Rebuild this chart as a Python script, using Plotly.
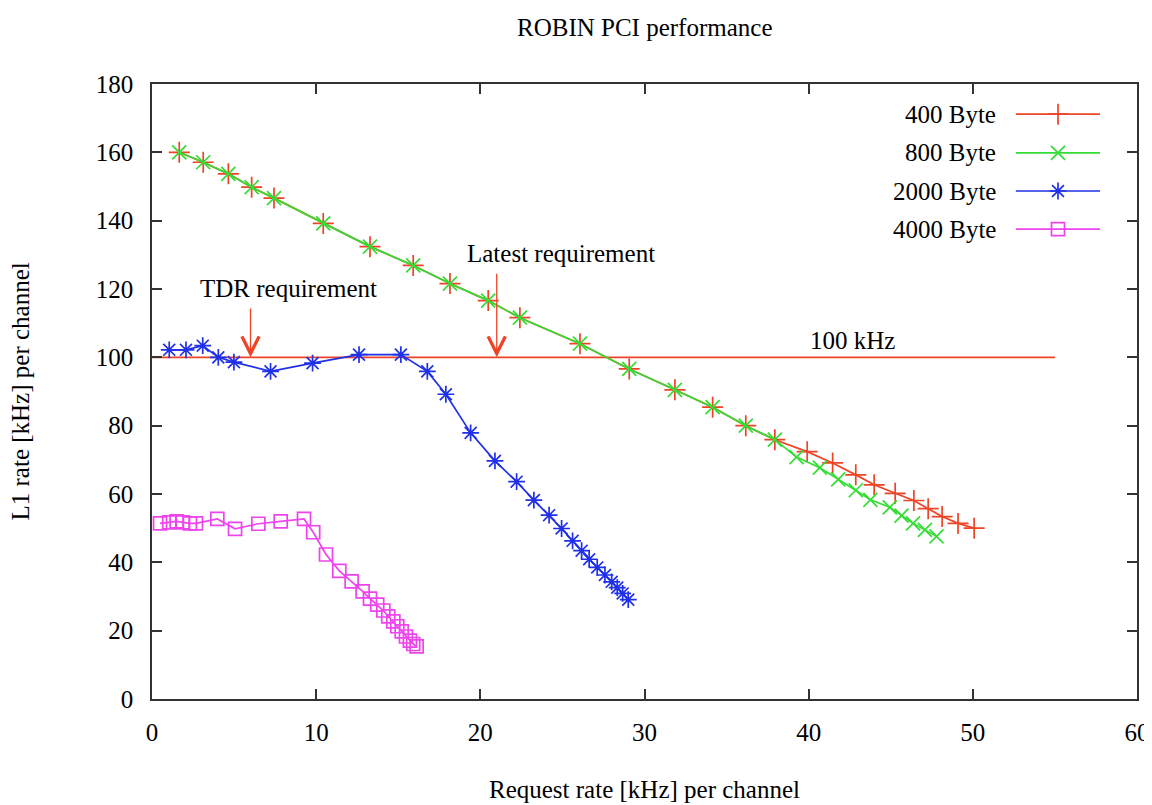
import plotly.graph_objects as go

# ---------------- data ----------------
x400 = [1.66, 3.12, 4.65, 6.07, 7.43, 10.43, 13.28, 15.91, 18.15, 20.48, 22.41, 26.07, 29.07, 31.85,
        34.15, 36.17, 37.94, 39.91, 41.46, 42.87, 43.99, 45.27, 46.41, 47.28, 48.13, 49.10, 50.08]
y400 = [160.0, 157.1, 153.7, 149.8, 146.6, 139.2, 132.4, 126.9, 121.6, 116.6, 111.6, 104.0, 96.6, 90.5,
        85.4, 80.0, 75.9, 72.4, 69.1, 65.6, 62.7, 60.2, 58.1, 55.7, 53.4, 51.4, 50.0]

x800 = [1.66, 3.12, 4.65, 6.07, 7.43, 10.43, 13.28, 15.91, 18.15, 20.48, 22.41, 26.07, 29.07, 31.85,
        34.15, 36.17, 37.94, 39.26, 40.68, 41.80, 42.87, 43.76, 44.94, 45.66, 46.36, 47.08, 47.79]
y800 = [160.0, 157.1, 153.7, 149.8, 146.6, 139.2, 132.4, 126.9, 121.6, 116.6, 111.6, 104.0, 96.6, 90.5,
        85.4, 80.0, 75.9, 70.8, 67.7, 64.3, 61.1, 58.3, 56.1, 53.7, 51.4, 49.5, 47.6]

x2000 = [1.05, 2.07, 3.09, 4.04, 4.99, 7.22, 9.78, 12.61, 15.16, 16.77, 17.90, 19.41, 20.89, 22.21,
         23.26, 24.19, 24.95, 25.62, 26.17, 26.63, 27.12, 27.59, 28.00, 28.34, 28.67, 29.01]
y2000 = [102.2, 102.2, 103.4, 100.0, 98.6, 95.9, 98.3, 100.8, 100.8, 95.9, 89.2, 77.9, 69.7, 63.6,
         58.2, 53.8, 49.9, 46.3, 43.4, 40.9, 38.5, 36.3, 34.3, 32.6, 30.9, 29.1]

x4000 = [0.49, 1.05, 1.50, 1.87, 2.31, 2.68, 3.98, 5.06, 6.48, 7.84, 9.26, 9.82, 10.60, 11.41, 12.16,
         12.83, 13.28, 13.72, 14.09, 14.39, 14.70, 14.94, 15.21, 15.47, 15.71, 15.91, 16.12]
y4000 = [51.4, 51.7, 52.0, 51.7, 51.4, 51.4, 52.7, 49.8, 51.3, 52.0, 52.7, 48.8, 42.3, 37.5, 34.4,
         31.5, 29.4, 27.6, 25.9, 24.2, 22.7, 21.3, 19.8, 18.3, 17.1, 16.1, 15.4]

ref_x = [0, 55]
ref_y = [100, 100]
ref_label = "100 kHz"

tdr_x, tdr_top = 6, 114.7
latest_x, latest_top = 21, 124.9

series_names = ["400 Byte", "800 Byte", "2000 Byte", "4000 Byte"]
x_ticks = [0, 10, 20, 30, 40, 50, 60]
y_ticks = [0, 20, 40, 60, 80, 100, 120, 140, 160, 180]

# ---------------- styles ----------------
RED = "#ee4426"
GREEN = "#33dd33"
BLUE = "#1f30e8"
MAG = "#ee44ee"
FONT = "Liberation Serif"
FS = 25
TXT = dict(family=FONT, size=FS, color="black")

styles = [
    (x400, y400, RED, "cross-thin-open", 15),
    (x800, y800, GREEN, "x-thin-open", 14),
    (x2000, y2000, BLUE, "asterisk-open", 14),
    (x4000, y4000, MAG, "square-open", 13),
]

fig = go.Figure()

# reference line
fig.add_trace(go.Scatter(x=ref_x, y=ref_y, mode="lines", line=dict(color=RED, width=1.6),
                         showlegend=False, hoverinfo="skip"))

for (xs, ys, col, sym, sz) in styles:
    fig.add_trace(go.Scatter(x=xs, y=ys, mode="lines+markers",
                             line=dict(color=col, width=1.7),
                             marker=dict(symbol=sym, size=sz, color=col, line=dict(color=col, width=1.7)),
                             showlegend=False))

# legend samples drawn on an overlay axis (0..1 over the plot area)
leg_rows = [0.951, 0.888, 0.826, 0.764]
for (name, row, (xs, ys, col, sym, sz)) in zip(series_names, leg_rows, styles):
    fig.add_trace(go.Scatter(x=[0.877, 0.9624], y=[row, row], mode="lines",
                             line=dict(color=col, width=1.7), xaxis="x2", yaxis="y2",
                             showlegend=False, hoverinfo="skip"))
    fig.add_trace(go.Scatter(x=[0.9198], y=[row], mode="markers",
                             marker=dict(symbol=sym, size=sz, color=col, line=dict(color=col, width=1.7)),
                             xaxis="x2", yaxis="y2", showlegend=False, hoverinfo="skip"))
    fig.add_annotation(x=0.859, y=row, xref="x2", yref="y2", text=name, showarrow=False,
                       xanchor="right", yanchor="middle", font=TXT)

# requirement arrows
for ax_x, top in [(tdr_x, tdr_top), (latest_x, latest_top)]:
    fig.add_annotation(x=ax_x, y=100, ax=ax_x, ay=top, xref="x", yref="y", axref="x", ayref="y",
                       text="", showarrow=True, arrowhead=5, arrowsize=2.6, arrowwidth=1.3, arrowcolor=RED)
fig.add_annotation(x=8.3, y=120.2, xref="x", yref="y", text="TDR requirement", showarrow=False, font=TXT)
fig.add_annotation(x=24.9, y=130.4, xref="x", yref="y", text="Latest requirement", showarrow=False, font=TXT)
fig.add_annotation(x=42.7, y=104.9, xref="x", yref="y", text=ref_label, showarrow=False, font=TXT)

# titles (positions relative to the plot area, which spans 985 x 615 px)
fig.add_annotation(x=0.5, y=(699 - 28) / 615, xref="paper", yref="paper", text="ROBIN PCI performance",
                   showarrow=False, font=TXT, yanchor="middle")
fig.add_annotation(x=0.5, y=(699 - 789) / 615, xref="paper", yref="paper",
                   text="Request rate [kHz] per channel", showarrow=False, font=TXT, yanchor="middle")
fig.add_annotation(x=(20 - 152) / 985, y=0.5, xref="paper", yref="paper",
                   text="L1 rate [kHz] per channel", showarrow=False, font=TXT, textangle=-90,
                   xanchor="center", yanchor="middle")

axis_common = dict(showgrid=False, zeroline=False, showline=True, linecolor="#333333", linewidth=1.5,
                   mirror="allticks", ticks="inside", ticklen=10, tickwidth=1.5, tickcolor="#333333",
                   tickfont=TXT, automargin=False)

# the page body adds an 8 px offset, so the figure is 8 px smaller on each axis
fig.update_layout(
    width=1144, height=797,
    paper_bgcolor="white", plot_bgcolor="white",
    margin=dict(l=144, r=15, t=76, b=106, autoexpand=False),
    xaxis=dict(range=[0, 60], tickvals=x_ticks, ticklabelstandoff=10, **axis_common),
    yaxis=dict(range=[0, 180], tickvals=y_ticks, ticklabelstandoff=12, **axis_common),
    xaxis2=dict(range=[0, 1], overlaying="x", visible=False, domain=[0, 1]),
    yaxis2=dict(range=[0, 1], overlaying="y", visible=False, domain=[0, 1]),
    showlegend=False,
)

fig.write_html("out.html")
